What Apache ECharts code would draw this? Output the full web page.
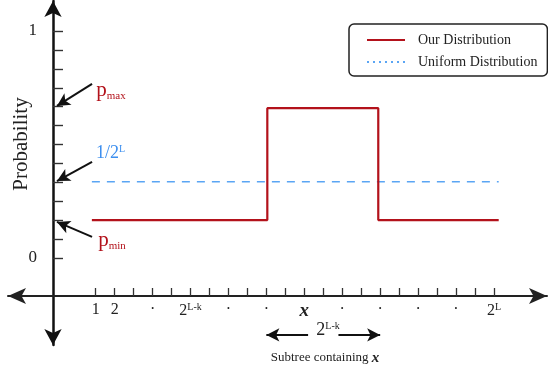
<!DOCTYPE html>
<html>
<head>
<meta charset="utf-8">
<script src="https://cdn.jsdelivr.net/npm/echarts@6/dist/echarts.min.js"></script>
<style>
html, body { margin: 0; padding: 0; background: #fff; }
#main { width: 548px; height: 377px; }
</style>
</head>
<body>
<div id="main"></div>
<script>
// leaf positions 1 .. 2^L on the horizontal axis
var xTicks = [1, 2, 3, 4, 5, 6, 7, 8, 9, 10, 11, 12, 13, 14, 15, 16, 17, 18, 19, 20, 21, 22];
var xLabelPos = [1, 2, 4, 6, 8, 10, 12, 14, 16, 18, 20, 22];
var xLabelText = ['1', '2', '·', '{n|2}{sup|L-k}', '·', '·', '{it|x}', '·', '·', '·', '·', '{n|2}{sup|L}'];

var yTicks = [0, 1/12, 2/12, 3/12, 4/12, 5/12, 6/12, 7/12, 8/12, 9/12, 10/12, 11/12, 1];
var yLabelPos = [0, 1];
var yLabelText = ['0', '1'];

// our distribution (step shape) and the uniform one
var ourX = [0.8, 10.05, 10.05, 15.9, 15.9, 22.25];
var ourY = [0.167, 0.167, 0.66, 0.66, 0.167, 0.167];
var uniformX = [0.8, 22.25];
var uniformY = [0.336, 0.336];

// levels the side arrows point at, and the subtree range
var pMax = 0.67, pUniform = 0.339, pMin = 0.159;
var subtreeStart = 10, subtreeEnd = 16;

var FONT = 'Liberation Serif';
var RED = '#b3121b';
var BLUE = '#5aa5f4';

var zip = function (xs, ys) {
    var res = [];
    for (var i = 0; i < xs.length; i++) {
        res.push([xs[i], ys[i]]);
    }
    return res;
};

var xLabelFor = function (v) {
    for (var i = 0; i < xLabelPos.length; i++) {
        if (Math.abs(xLabelPos[i] - v) < 1e-6) return xLabelText[i];
    }
    return '';
};
var yLabelFor = function (v) {
    for (var i = 0; i < yLabelPos.length; i++) {
        if (Math.abs(yLabelPos[i] - v) < 1e-6) return yLabelText[i];
    }
    return '';
};

var axisArrowX = -1.04;   // tip touches the vertical axis
var noteX = 0.81;
var arrowY = -0.339;

option = {
    backgroundColor: '#fff',
    animation: false,
    grid: {
        left: 8, right: 1, top: 1, bottom: 32,
        outerBoundsMode: 'none'
    },
    legend: {
        left: 349, top: 24,
        orient: 'vertical',
        padding: [9, 10, 7, 17],
        itemWidth: 38, itemHeight: 14, itemGap: 8,
        borderColor: '#222', borderWidth: 1.5, borderRadius: 5,
        itemStyle: { opacity: 0 },
        textStyle: { fontFamily: FONT, fontSize: 14, color: '#222', padding: [0, 0, 0, 8] },
        data: [
            { name: 'Our Distribution' },
            { name: 'Uniform Distribution', lineStyle: { type: [2, 4], width: 2 } }
        ]
    },
    xAxis: {
        type: 'value',
        min: -3.622, max: 24.796,
        position: 'bottom',
        offset: -49,
        axisLine: {
            show: true, onZero: false,
            symbol: ['arrow', 'arrow'], symbolSize: [12, 18],
            lineStyle: { color: '#222', width: 2 }
        },
        axisTick: {
            show: true, inside: true, length: 8,
            customValues: xTicks,
            lineStyle: { color: '#333', width: 1.3 }
        },
        axisLabel: {
            customValues: xLabelPos,
            margin: 6,
            fontFamily: FONT, fontSize: 16, color: '#222',
            formatter: function (v) { return xLabelFor(v); },
            rich: {
                n: { fontFamily: FONT, fontSize: 16, color: '#222' },
                sup: { fontFamily: FONT, fontSize: 10, color: '#222', verticalAlign: 'top', padding: [0, 0, 8, 0] },
                it: { fontFamily: FONT, fontSize: 19, fontStyle: 'italic', fontWeight: 'bold', color: '#222' }
            }
        },
        splitLine: { show: false }
    },
    yAxis: {
        type: 'value',
        min: -0.3833, max: 1.1322,
        position: 'left',
        offset: -45,
        axisLine: {
            show: true, onZero: false,
            symbol: ['arrow', 'arrow'], symbolSize: [13, 16],
            lineStyle: { color: '#111', width: 2.5 }
        },
        axisTick: {
            show: true, inside: true, length: 10,
            customValues: yTicks,
            lineStyle: { color: '#333', width: 1.4 }
        },
        axisLabel: {
            customValues: yLabelPos,
            margin: 16,
            fontFamily: FONT, fontSize: 17, color: '#222',
            formatter: function (v) { return yLabelFor(v); }
        },
        splitLine: { show: false }
    },
    graphic: [
        {
            type: 'text', x: 21, y: 144, rotation: Math.PI / 2,
            style: { text: 'Probability', font: '21px "Liberation Serif"', fill: '#222', align: 'center', verticalAlign: 'middle' }
        },
        {
            type: 'text', x: 325, y: 358,
            style: {
                text: 'Subtree containing {it|x}', font: '13px "Liberation Serif"', fill: '#222',
                align: 'center', verticalAlign: 'middle',
                rich: { it: { fontFamily: FONT, fontSize: 15, fontStyle: 'italic', fontWeight: 'bold', fill: '#222' } }
            }
        }
    ],
    series: [
        {
            name: 'Our Distribution',
            type: 'line',
            data: zip(ourX, ourY),
            symbol: 'none',
            lineStyle: { color: RED, width: 2.2 },
            itemStyle: { color: RED },
            z: 3
        },
        {
            name: 'Uniform Distribution',
            type: 'line',
            data: zip(uniformX, uniformY),
            symbol: 'none',
            lineStyle: { color: BLUE, width: 1.6, type: [8, 7] },
            itemStyle: { color: BLUE },
            z: 2
        },
        {
            name: 'notes',
            type: 'line',
            data: [],
            markLine: {
                silent: true,
                symbol: ['none', 'arrow'],
                symbolSize: [10, 13],
                label: { show: false },
                lineStyle: { color: '#111', width: 2, type: 'solid' },
                data: [
                    [{ coord: [noteX, 0.767] }, { coord: [axisArrowX, pMax] }],
                    [{ coord: [noteX, 0.423] }, { coord: [axisArrowX, pUniform] }],
                    [{ coord: [noteX, 0.093] }, { coord: [axisArrowX, pMin] }],
                    [{ coord: [12.2, arrowY] }, { coord: [subtreeStart, arrowY] }],
                    [{ coord: [13.8, arrowY] }, { coord: [subtreeEnd, arrowY] }]
                ]
            },
            markPoint: {
                silent: true,
                symbol: 'circle', symbolSize: 1,
                itemStyle: { color: 'rgba(0,0,0,0)' },
                label: {
                    show: true, position: 'inside',
                    rich: {
                        p: { fontFamily: FONT, fontSize: 21, color: RED },
                        sub: { fontFamily: FONT, fontSize: 11, color: RED, verticalAlign: 'bottom', padding: [6, 0, 0, 0] },
                        b: { fontFamily: FONT, fontSize: 18, color: '#3d8fef' },
                        bsup: { fontFamily: FONT, fontSize: 10, color: '#3d8fef', verticalAlign: 'top', padding: [0, 0, 8, 0] },
                        n: { fontFamily: FONT, fontSize: 18, color: '#222' },
                        sup: { fontFamily: FONT, fontSize: 10, color: '#222', verticalAlign: 'top', padding: [0, 0, 8, 0] }
                    }
                },
                data: [
                    { coord: [1.81, 0.736], label: { formatter: '{p|p}{sub|max}' } },
                    { coord: [1.78, 0.4626], label: { formatter: '{b|1/2}{bsup|L}' } },
                    { coord: [1.86, 0.075], label: { formatter: '{p|p}{sub|min}' } },
                    { coord: [13.25, -0.318], label: { formatter: '{n|2}{sup|L-k}' } }
                ]
            }
        }
    ]
};

var myChart = echarts.init(document.getElementById('main'));
myChart.setOption(option);
</script>
</body>
</html>
